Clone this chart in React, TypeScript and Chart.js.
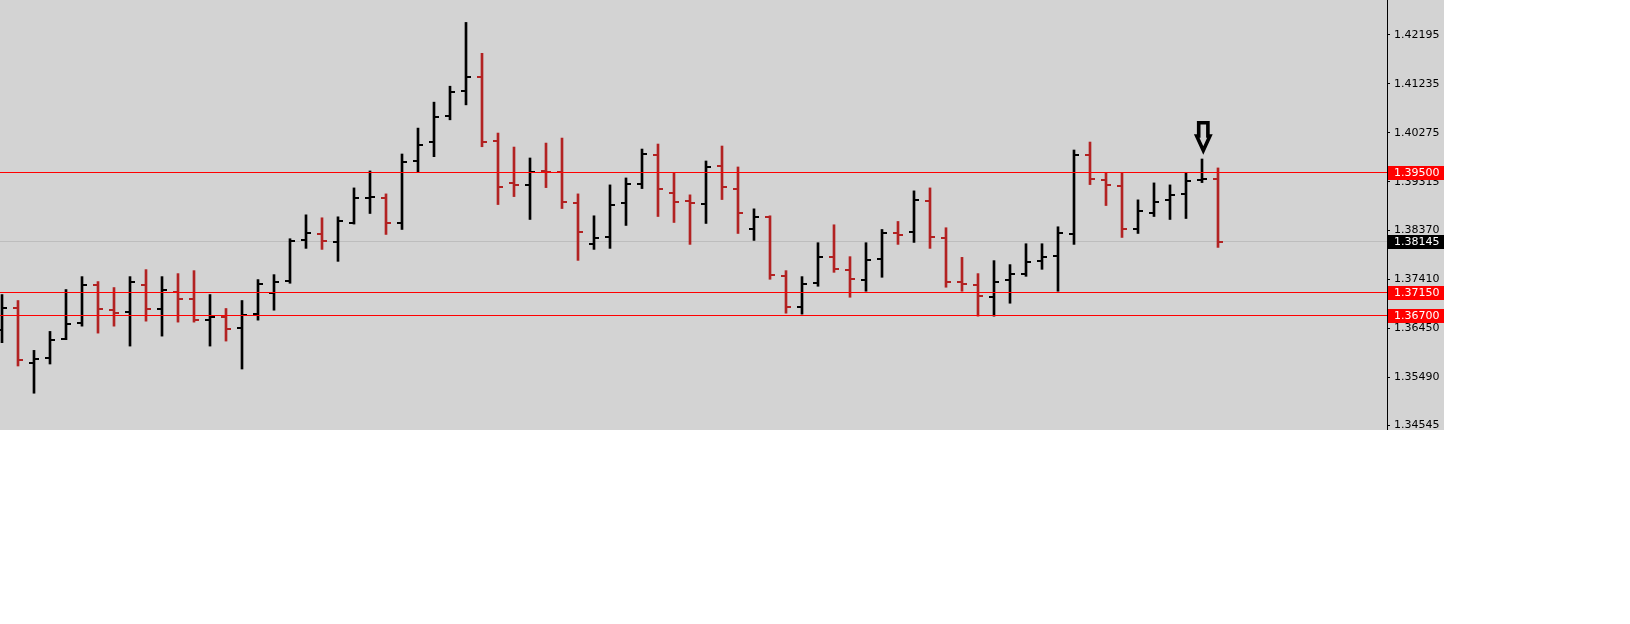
import React, { useEffect, useRef } from 'react';
import { Chart, registerables } from 'chart.js';

Chart.register(...registerables);

// ---- Data ----
const openPrices = [
  1.36414, 1.36838, 1.35765, 1.35862, 1.36233, 1.36551, 1.37306, 1.36805, 1.36766, 1.37306,
  1.36824, 1.37156, 1.37019, 1.36610, 1.36668, 1.36453, 1.36734, 1.37144, 1.37371, 1.38171,
  1.38288, 1.38132, 1.38503, 1.39010, 1.39010, 1.38503, 1.39732, 1.40103, 1.40610, 1.41098,
  1.41371, 1.40122, 1.39303, 1.39264, 1.39525, 1.39517, 1.38912, 1.38093, 1.38229, 1.38912,
  1.39283, 1.39849, 1.39107, 1.38951, 1.38893, 1.39634, 1.39186, 1.38385, 1.38620, 1.37468,
  1.36863, 1.37332, 1.37839, 1.37585, 1.37390, 1.37800, 1.38307, 1.38327, 1.38951, 1.38210,
  1.37351, 1.37293, 1.37058, 1.37390, 1.37507, 1.37761, 1.37859, 1.38288, 1.39849, 1.39361,
  1.39244, 1.38385, 1.38698, 1.38971, 1.39088, 1.39361, 1.39381,
];
const highPrices = [
  1.37111, 1.36994, 1.36018, 1.36389, 1.37209, 1.37462, 1.37365, 1.37248, 1.37462, 1.37599,
  1.37462, 1.37521, 1.37579, 1.37111, 1.36838, 1.36994, 1.37404, 1.37501, 1.38204, 1.38672,
  1.38614, 1.38633, 1.39199, 1.39531, 1.39082, 1.39863, 1.40370, 1.40878, 1.41190, 1.42439,
  1.41834, 1.40273, 1.39999, 1.39785, 1.40077, 1.40175, 1.39082, 1.38653, 1.39258, 1.39394,
  1.39960, 1.40058, 1.39498, 1.39063, 1.39726, 1.40019, 1.39609, 1.38789, 1.38653, 1.37579,
  1.37462, 1.38126, 1.38477, 1.37853, 1.38126, 1.38385, 1.38542, 1.39141, 1.39199, 1.38419,
  1.37839, 1.37521, 1.37775, 1.37697, 1.38106, 1.38106, 1.38438, 1.39941, 1.40097, 1.39498,
  1.39498, 1.38965, 1.39297, 1.39258, 1.39498, 1.39765, 1.39590,
];
const lowPrices = [
  1.36169, 1.35712, 1.35179, 1.35751, 1.36227, 1.36492, 1.36356, 1.36492, 1.36102, 1.36590,
  1.36297, 1.36571, 1.36571, 1.36102, 1.36200, 1.35653, 1.36610, 1.36805, 1.37332, 1.38015,
  1.37995, 1.37761, 1.38491, 1.38698, 1.38288, 1.38385, 1.39517, 1.39810, 1.40532, 1.40825,
  1.40005, 1.38873, 1.39029, 1.38581, 1.39205, 1.38795, 1.37780, 1.37995, 1.38015, 1.38464,
  1.39186, 1.38639, 1.38522, 1.38093, 1.38503, 1.38971, 1.38307, 1.38171, 1.37410, 1.36746,
  1.36727, 1.37273, 1.37546, 1.37058, 1.37176, 1.37449, 1.38093, 1.38132, 1.38015, 1.37254,
  1.37176, 1.36688, 1.36688, 1.36941, 1.37468, 1.37605, 1.37176, 1.38093, 1.39264, 1.38854,
  1.38229, 1.38307, 1.38639, 1.38581, 1.38600, 1.39303, 1.38034,
];
const closePrices = [
  1.36838, 1.35829, 1.35843, 1.36219, 1.36532, 1.37293, 1.36824, 1.36746, 1.37351, 1.36824,
  1.37195, 1.37019, 1.36610, 1.36668, 1.36434, 1.36707, 1.37312, 1.37351, 1.38151, 1.38307,
  1.38151, 1.38542, 1.39010, 1.39029, 1.38503, 1.39712, 1.40044, 1.40591, 1.41079, 1.41371,
  1.40103, 1.39225, 1.39264, 1.39517, 1.39520, 1.38932, 1.38327, 1.38210, 1.38873, 1.39283,
  1.39869, 1.39186, 1.38932, 1.38912, 1.39615, 1.39225, 1.38717, 1.38620, 1.37488, 1.36863,
  1.37312, 1.37839, 1.37605, 1.37410, 1.37780, 1.38307, 1.38268, 1.38971, 1.38229, 1.37351,
  1.37312, 1.37078, 1.37351, 1.37507, 1.37741, 1.37839, 1.38307, 1.39849, 1.39381, 1.39264,
  1.38385, 1.38756, 1.38932, 1.39068, 1.39342, 1.39381, 1.38145,
];
const barIndex = openPrices.map((_, i) => i);

const yTickValues = [1.42195, 1.41235, 1.40275, 1.39315, 1.3837, 1.3741, 1.3645, 1.3549, 1.34545];
const levelLines = [1.395, 1.3715, 1.367];
const bidPrice = 1.38145;
const arrowBarIndex = 75;

const Y_MIN = 1.34459;
const Y_MAX = 1.42878;
const X_MIN = -0.125;
const X_MAX = 86.5625;

// ---- Styles ----
const UP_COLOR = '#000000';
const DOWN_COLOR = '#b22222';
const LEVEL_COLOR = '#ff0000';
const BID_COLOR = '#bdbdbd';
const FONT = 'DejaVu Sans';

const barColor = (i: number) => (closePrices[i] >= openPrices[i] ? UP_COLOR : DOWN_COLOR);

const bidLinePlugin = {
  id: 'bidLine',
  beforeDatasetsDraw(chart: any) {
    const { ctx, chartArea, scales } = chart;
    const py = Math.floor(scales.y.getPixelForValue(bidPrice));
    ctx.save();
    ctx.fillStyle = BID_COLOR;
    ctx.fillRect(chartArea.left, py, chartArea.right - chartArea.left, 1);
    ctx.restore();
  },
};

const ohlcTicksPlugin = {
  id: 'ohlcTicks',
  afterDatasetsDraw(chart: any) {
    const { ctx, scales } = chart;
    ctx.save();
    barIndex.forEach((i) => {
      const cx = Math.round(scales.x.getPixelForValue(i));
      const oy = Math.round(scales.y.getPixelForValue(openPrices[i]));
      const cy = Math.round(scales.y.getPixelForValue(closePrices[i]));
      ctx.fillStyle = barColor(i);
      ctx.fillRect(cx - 5, oy - 1, 4, 2);
      ctx.fillRect(cx + 1, cy - 1, 4, 2);
    });
    ctx.restore();
  },
};

const levelLinesPlugin = {
  id: 'levelLines',
  afterDatasetsDraw(chart: any) {
    const { ctx, chartArea, scales } = chart;
    ctx.save();
    ctx.fillStyle = LEVEL_COLOR;
    levelLines.forEach((v) => {
      const py = Math.floor(scales.y.getPixelForValue(v));
      ctx.fillRect(chartArea.left, py, chartArea.right - chartArea.left, 1);
    });
    ctx.restore();
  },
};

const arrowPlugin = {
  id: 'arrowMark',
  afterDatasetsDraw(chart: any) {
    const { ctx, scales } = chart;
    const cx = scales.x.getPixelForValue(arrowBarIndex) + 1.3;
    const h = scales.y.getPixelForValue(highPrices[arrowBarIndex]);
    const top = h - 36.2;
    const headY = h - 23;
    const tip = h - 8.6;
    ctx.save();
    ctx.beginPath();
    ctx.moveTo(cx - 4.6, top);
    ctx.lineTo(cx + 4.6, top);
    ctx.lineTo(cx + 4.6, headY);
    ctx.lineTo(cx + 6.6, headY);
    ctx.lineTo(cx, tip);
    ctx.lineTo(cx - 6.6, headY);
    ctx.lineTo(cx - 4.6, headY);
    ctx.closePath();
    ctx.lineWidth = 3.6;
    ctx.lineJoin = 'miter';
    ctx.strokeStyle = '#000000';
    ctx.stroke();
    ctx.restore();
  },
};

const priceTagsPlugin = {
  id: 'priceTags',
  afterDraw(chart: any) {
    const { ctx, chartArea, scales, width } = chart;
    const tags = [
      ...levelLines.map((v) => ({ v, bg: LEVEL_COLOR })),
      { v: bidPrice, bg: '#000000' },
    ];
    ctx.save();
    ctx.font = `11px "${FONT}"`;
    ctx.textAlign = 'left';
    ctx.textBaseline = 'middle';
    tags.forEach(({ v, bg }) => {
      const py = Math.floor(scales.y.getPixelForValue(v));
      const x0 = chartArea.right + 1;
      ctx.fillStyle = bg;
      ctx.fillRect(x0, py - 6, width - x0, 14);
      ctx.fillStyle = '#ffffff';
      ctx.fillText(v.toFixed(5), chartArea.right + 7, py + 1.5);
    });
    ctx.restore();
  },
};

export default function App() {
  const ref = useRef<HTMLCanvasElement>(null);

  useEffect(() => {
    if (!ref.current) return;
    Chart.defaults.font.family = FONT;
    const chart = new Chart(ref.current, {
      type: 'bar',
      data: {
        datasets: [
          {
            data: barIndex.map((i) => ({ x: i, y: [lowPrices[i], highPrices[i]] })) as any,
            backgroundColor: barIndex.map(barColor),
            barThickness: 2,
            borderWidth: 0,
            borderSkipped: false,
          } as any,
        ],
      },
      options: {
        animation: false,
        responsive: false,
        devicePixelRatio: 1,
        events: [],
        layout: { padding: 0 },
        plugins: {
          legend: { display: false },
          tooltip: { enabled: false },
        },
        scales: {
          x: {
            type: 'linear',
            min: X_MIN,
            max: X_MAX,
            offset: false,
            display: false,
          },
          y: {
            type: 'linear',
            position: 'right',
            min: Y_MIN,
            max: Y_MAX,
            afterBuildTicks: (s: any) => {
              s.ticks = yTickValues.map((v) => ({ value: v }));
            },
            afterFit: (s: any) => {
              s.width = 57;
              s.paddingTop = 0;
              s.paddingBottom = 0;
            },
            grid: {
              drawOnChartArea: false,
              drawTicks: true,
              tickLength: 3,
              color: '#000000',
              lineWidth: 1,
            },
            border: { display: true, color: '#000000', width: 1 },
            ticks: {
              autoSkip: false,
              color: '#000000',
              padding: 4,
              font: { family: FONT, size: 11 },
              callback: (v: any) => Number(v).toFixed(5),
            },
          },
        },
      },
      plugins: [bidLinePlugin, ohlcTicksPlugin, levelLinesPlugin, arrowPlugin, priceTagsPlugin],
    });
    return () => chart.destroy();
  }, []);

  return (
    <div style={{ position: 'absolute', left: 0, top: 0, width: 1630, height: 624, background: '#ffffff' }}>
      <canvas
        ref={ref}
        width={1444}
        height={430}
        style={{ display: 'block', width: 1444, height: 430, background: '#d3d3d3' }}
      />
    </div>
  );
}
